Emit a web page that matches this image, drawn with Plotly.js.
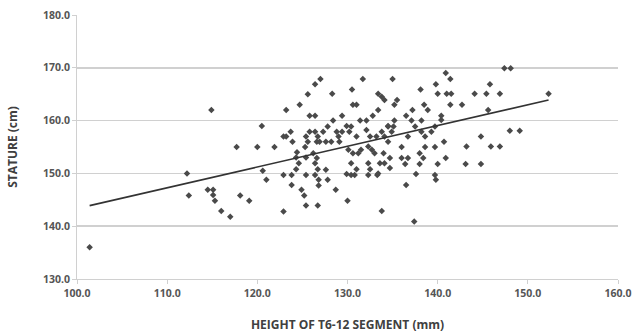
<!DOCTYPE html>
<html>
<head>
<meta charset="utf-8">
<script src="https://cdn.plot.ly/plotly-3.0.1.min.js"></script>
<style>html,body{margin:0;padding:0;background:#fff;}#chart{width:638px;height:336px;}</style>
</head>
<body>
<div id="chart"></div>
<script>
// T6-12 segment height (mm)
const segmentHeight = [
101.4,112.2,112.4,114.5,115.1,115.1,115.3,116.0,117.0,118.1,119.1,117.7,120.0,114.9,120.5,121.9,120.6,121.0,
122.9,123.2,123.7,123.9,123.2,124.7,125.6,126.4,127.0,125.8,126.4,125.4,125.8,125.6,126.4,126.7,127.3,126.6,126.9,
125.3,124.4,124.3,125.4,124.6,124.3,126.2,126.6,126.4,126.7,126.4,126.8,126.8,127.6,127.8,122.9,123.8,123.8,125.4,
122.9,124.9,125.2,125.4,126.7,
128.3,130.5,131.7,133.4,128.4,129.4,130.6,131.0,131.4,132.1,132.8,133.4,128.8,129.0,129.1,129.9,131.0,132.1,132.5,
127.6,128.2,129.4,130.2,130.4,133.2,133.8,134.1,134.5,135.1,134.9,127.8,130.1,130.6,131.2,131.5,132.3,132.7,133.0,
128.7,130.0,129.9,130.4,130.8,131.0,130.4,132.3,132.5,132.3,133.3,133.6,134.1,134.7,134.7,133.4,133.8,
133.8,134.1,135.0,135.5,135.2,138.1,139.8,140.9,141.4,140.0,141.0,141.5,138.5,138.9,141.4,137.2,136.5,
135.2,137.1,138.2,140.4,140.4,134.5,137.5,138.2,138.6,139.3,139.7,136.7,140.7,139.7,138.6,136.0,140.9,140.0,
139.7,139.8,137.6,136.5,137.4,138.0,138.4,138.0,136.0,136.7,136.4,134.0,134.5,
142.7,144.1,145.4,145.8,146.9,147.4,148.1,152.3,145.6,148.0,149.1,144.8,143.2,145.9,146.9,143.1,144.8
];
// Stature (cm)
const stature = [
136.0,150.0,145.8,146.9,146.9,145.9,144.8,142.9,141.8,145.8,144.8,155.0,155.0,162.0,159.0,155.0,150.5,148.8,
157.0,157.0,157.9,156.0,162.0,163.0,165.0,166.9,167.9,160.9,160.9,157.0,157.9,156.0,157.9,157.0,157.9,156.0,156.0,
155.0,154.0,153.0,153.0,151.9,150.8,153.8,152.9,151.9,150.8,149.7,148.8,147.7,150.7,148.8,149.7,149.7,147.8,149.7,
142.8,146.9,145.8,143.9,143.9,
165.1,165.9,167.9,165.1,160.0,160.9,163.0,163.0,160.0,160.0,160.9,162.0,157.9,157.0,156.0,159.0,157.0,158.2,157.0,
156.0,156.0,157.9,157.9,158.9,157.0,157.9,157.0,158.9,158.9,157.9,158.9,154.5,153.8,153.8,154.5,155.1,154.5,153.8,
146.9,144.8,149.9,149.7,149.7,150.8,151.9,151.9,150.8,149.7,149.7,151.9,151.9,152.9,151.0,150.0,142.9,
164.5,163.9,167.9,163.9,163.0,165.9,166.9,169.0,167.9,165.1,165.1,165.1,163.0,162.0,163.0,162.0,160.9,
160.0,160.0,160.0,160.9,160.1,159.0,158.9,157.9,157.0,157.9,158.9,157.0,156.0,155.0,155.0,155.0,152.9,151.8,
149.7,148.8,149.9,147.8,140.9,153.8,152.9,151.8,152.9,152.9,151.8,153.8,156.0,
163.0,165.1,165.1,166.9,165.1,169.9,169.9,165.1,162.0,158.1,158.1,157.0,155.1,155.1,155.1,151.8,151.8
];
// Linear trend line end points
const trendX = [101.4, 152.3];
const trendY = [143.9, 163.9];

const xTicks = [100,110,120,130,140,150,160];
const yTicks = [130,140,150,160,170,180];

const tickFont = {family: 'Open Sans, Liberation Sans, sans-serif', size: 10.5, color: '#555555', weight: 'bold'};

const data = [
  {x: segmentHeight, y: stature, type: 'scatter', mode: 'markers',
   marker: {symbol: 'diamond', size: 5, color: '#4a4a4a'}, hoverinfo: 'x+y'},
  {x: trendX, y: trendY, type: 'scatter', mode: 'lines',
   line: {color: '#333333', width: 1.6}, hoverinfo: 'skip'}
];

const layout = {
  width: 638, height: 336,
  margin: {l: 77, r: 20, t: 15, b: 57},
  paper_bgcolor: '#ffffff', plot_bgcolor: '#ffffff',
  showlegend: false,
  xaxis: {
    range: [100, 160], tickvals: xTicks, ticktext: xTicks.map(v => v.toFixed(1)),
    showgrid: false, zeroline: false,
    showline: true, linecolor: '#d0d0d0', linewidth: 1,
    ticks: 'outside', ticklen: 4, tickcolor: '#d0d0d0',
    tickfont: tickFont, fixedrange: true, automargin: false,
    title: {text: '<b>HEIGHT OF T6-12 SEGMENT (mm)</b>', standoff: 22,
            font: {family: 'Open Sans, Liberation Sans, sans-serif', size: 12, color: '#404040'}}
  },
  yaxis: {
    range: [130, 180], tickvals: yTicks, ticktext: yTicks.map(v => v.toFixed(1)),
    showgrid: true, gridcolor: '#d0d0d0', gridwidth: 1.5, zeroline: false,
    showline: true, linecolor: '#d0d0d0', linewidth: 1,
    ticks: 'outside', ticklen: 4, tickcolor: '#d0d0d0',
    tickfont: tickFont, fixedrange: true, automargin: false,
    title: {text: '<b>STATURE (cm)</b>', standoff: 22,
            font: {family: 'Open Sans, Liberation Sans, sans-serif', size: 12, color: '#404040'}}
  }
};

Plotly.newPlot('chart', data, layout, {displayModeBar: false, staticPlot: true});
</script>
</body>
</html>
